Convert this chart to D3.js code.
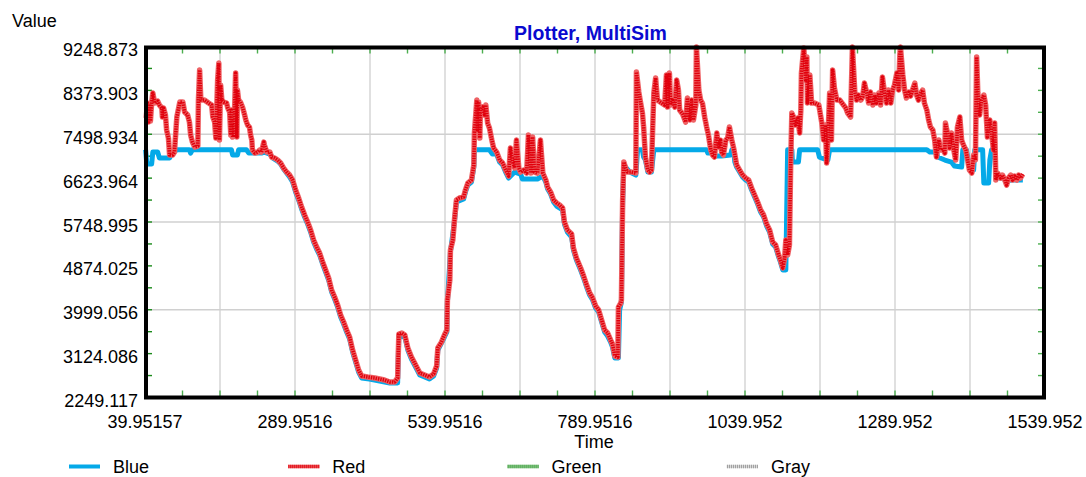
<!DOCTYPE html>
<html>
<head>
<meta charset="utf-8">
<script src="https://cdn.jsdelivr.net/npm/d3@7"></script>
<style>
  body { margin: 0; background: #fff; }
  svg { display: block; font-family: "Liberation Sans", Arial, sans-serif; }
</style>
</head>
<body>
<svg width="1086" height="477"></svg>
<script>
// axis ticks as printed on the plot
const xTickValues = [39.95157, 289.9516, 539.9516, 789.9516, 1039.952, 1289.952, 1539.952];
const xTickLabels = ['39.95157', '289.9516', '539.9516', '789.9516', '1039.952', '1289.952', '1539.952'];
const yTickValues = [2249.117, 3124.086, 3999.056, 4874.025, 5748.995, 6623.964, 7498.934, 8373.903, 9248.873];
const yTickLabels = ['2249.117', '3124.086', '3999.056', '4874.025', '5748.995', '6623.964', '7498.934', '8373.903', '9248.873'];
const seriesNames = ['Blue', 'Red', 'Green', 'Gray'];

// [time, value]
const blue = [
  [41,7190],[43,6905],[51,6905],[53,7144],[61,7144],[64,7025],[81,7025],[84,7104],[93,7190],[114,7190],
  [116,7124],[119,7190],[184,7190],[186,7085],[194,7085],[196,7190],[209,7190],[213,7124],[234,7124],
  [239,7144],[248,7104],[253,7025],[261,6965],[266,6905],[271,6805],[276,6725],[281,6646],[286,6546],
  [291,6346],[296,6187],[301,6007],[306,5848],[311,5708],[316,5549],[321,5350],[326,5210],[331,5090],
  [336,4911],[341,4751],[346,4592],[351,4353],[356,4213],[361,4053],[366,3854],[371,3714],[376,3555],
  [381,3415],[386,3156],[391,2957],[396,2757],[401,2638],[414,2618],[431,2578],[448,2538],[461,2538],
  [463,3475],[473,3455],[478,3196],[484,3016],[491,2857],[498,2698],[514,2618],[521,2678],[526,2837],
  [528,3196],[539,3455],[543,3555],[544,4153],[549,5150],[556,5788],[559,6147],[571,6207],[574,6346],
  [578,6486],[584,6546],[588,6845],[589,7190],[614,7190],[619,7104],[626,7104],[631,6945],[636,6885],
  [641,6745],[646,6626],[656,6745],[666,6705],[669,6606],[694,6606],[703,6666],[708,6546],[711,6406],
  [716,6307],[721,6147],[726,6067],[736,5988],[739,5708],[744,5549],[751,5449],[754,5190],[759,4991],
  [766,4791],[771,4632],[776,4452],[781,4293],[786,4193],[791,4034],[796,3954],[801,3754],[806,3555],
  [811,3475],[816,3355],[819,3256],[823,3036],[829,3036],[831,3994],[834,4153],[836,6127],[838,6885],
  [848,6745],[858,6685],[861,7190],[869,7190],[871,7044],[874,6985],[878,6745],[884,6745],[888,7190],
  [976,7190],[978,7124],[986,7124],[989,7064],[1001,7064],[1016,7085],[1018,7190],[1021,7190],[1023,6945],
  [1026,6845],[1031,6745],[1036,6646],[1041,6586],[1046,6546],[1051,6386],[1056,6247],[1061,6107],
  [1066,5948],[1071,5848],[1076,5669],[1081,5549],[1086,5310],[1091,5250],[1096,5051],[1099,4951],
  [1103,4791],[1108,4791],[1111,7190],[1118,7190],[1119,6945],[1129,6945],[1131,7190],[1161,7190],
  [1164,7044],[1178,6985],[1181,7190],[1343,7190],[1348,7144],[1359,7144],[1361,7044],[1373,6985],
  [1384,6945],[1389,6865],[1401,6845],[1403,7190],[1409,7190],[1411,7025],[1418,6785],[1421,6785],
  [1423,7190],[1436,7190],[1438,6526],[1446,6526],[1448,6985],[1451,7190],[1456,7190],[1458,6685],
  [1464,6626],[1471,6626],[1476,6526],[1481,6586],[1503,6586]
];

const red = [
  [42,7822],[44,8121],[46,7742],[48,8101],[49,7762],[51,8121],[53,8321],[56,8121],[61,8161],[64,8081],
  [68,8021],[69,7842],[71,8021],[74,7882],[76,7583],[79,7423],[81,7084],[86,7084],[89,7144],[91,7483],
  [93,7842],[96,8021],[98,8141],[103,8141],[106,7942],[111,7882],[114,7742],[116,7483],[119,7343],
  [123,7244],[128,7264],[129,8181],[131,8779],[133,8181],[139,8181],[146,8121],[151,8081],[153,7842],
  [156,7742],[158,7423],[161,8580],[163,8919],[164,7383],[166,8480],[168,8181],[171,8141],[176,8121],
  [178,8021],[181,7942],[183,7483],[184,7982],[186,7443],[188,7483],[191,8719],[193,7443],[194,8380],
  [196,8181],[199,8141],[203,8021],[206,7882],[208,7782],[211,7682],[214,7643],[216,7483],[218,7383],
  [219,7184],[223,7124],[228,7144],[231,7184],[234,7144],[238,7343],[239,7284],[243,7144],[248,7144],
  [251,7044],[256,7024],[261,6985],[266,6925],[271,6825],[276,6745],[281,6685],[286,6586],[291,6386],
  [296,6227],[301,6047],[306,5888],[311,5748],[316,5589],[321,5389],[326,5250],[331,5130],[336,4951],
  [341,4791],[346,4632],[351,4392],[356,4253],[361,4093],[366,3894],[371,3754],[376,3595],[381,3455],
  [386,3196],[391,2997],[396,2797],[401,2678],[411,2658],[423,2638],[431,2618],[439,2598],[448,2558],
  [456,2558],[461,2638],[463,3515],[468,3535],[473,3495],[478,3236],[484,3056],[491,2897],[498,2737],
  [506,2698],[514,2658],[521,2718],[526,2877],[528,3236],[534,3355],[539,3495],[543,3595],[544,4193],
  [548,4592],[549,5190],[553,5389],[556,5828],[559,6187],[564,6227],[571,6247],[574,6386],[578,6526],
  [584,6586],[588,6885],[589,7523],[593,8181],[594,7583],[596,8141],[598,7423],[599,7982],[603,8042],
  [606,7882],[608,8081],[611,7722],[614,7623],[618,7383],[621,7224],[626,7144],[631,6985],[636,6925],
  [641,6785],[646,6666],[649,7224],[653,6945],[656,6825],[659,7383],[663,6825],[666,6745],[671,6785],
  [676,6725],[679,7483],[683,6725],[686,7443],[689,6745],[694,6725],[699,7383],[703,6725],[708,6586],
  [711,6446],[716,6346],[721,6187],[726,6127],[731,6087],[736,6027],[739,5748],[744,5589],[751,5509],
  [754,5230],[759,5030],[766,4831],[771,4672],[776,4492],[781,4333],[786,4233],[791,4073],[796,3994],
  [801,3794],[806,3595],[811,3535],[816,3395],[819,3316],[823,3076],[828,3056],[829,4053],[833,4133],
  [834,4193],[836,6187],[838,6945],[841,6825],[844,6745],[851,6745],[858,6725],[859,8739],[863,8340],
  [866,8121],[869,7922],[871,7643],[874,7044],[878,6785],[881,6745],[884,6785],[886,7583],[888,8321],
  [891,8620],[894,8181],[901,8121],[906,8081],[909,8680],[911,8041],[914,8720],[916,8081],[919,8181],
  [923,8041],[926,8580],[929,8380],[931,7982],[936,7902],[941,7742],[944,8221],[948,7782],[951,8181],
  [954,7782],[958,8081],[959,9238],[963,8380],[966,8181],[969,8121],[973,7822],[976,7643],[979,7483],
  [983,7184],[986,7084],[989,7044],[993,7523],[996,7244],[999,7383],[1001,7144],[1004,7084],[1008,7383],
  [1011,7423],[1014,7643],[1018,7383],[1021,7224],[1026,6885],[1031,6785],[1036,6685],[1041,6626],
  [1046,6586],[1051,6426],[1056,6287],[1061,6147],[1066,5988],[1071,5888],[1076,5708],[1081,5589],
  [1086,5350],[1091,5290],[1096,5090],[1099,4991],[1103,4831],[1106,5030],[1108,5389],[1111,5090],
  [1114,5290],[1116,6845],[1118,7922],[1121,7842],[1124,7682],[1128,7822],[1131,7523],[1133,7982],
  [1134,8719],[1136,8979],[1138,9218],[1141,8580],[1143,9038],[1144,8121],[1148,8680],[1151,8121],
  [1156,8121],[1163,8081],[1168,7722],[1171,7383],[1174,7682],[1176,6925],[1178,7383],[1181,8321],
  [1184,7383],[1186,8779],[1189,8420],[1193,8181],[1198,8181],[1203,8101],[1208,8021],[1211,7922],
  [1216,7842],[1219,9238],[1223,8340],[1226,8181],[1229,8281],[1233,8181],[1236,8241],[1239,8520],
  [1243,8321],[1246,8121],[1249,8340],[1253,8081],[1256,8281],[1259,8121],[1263,8321],[1266,8081],
  [1269,8640],[1273,8281],[1276,8121],[1279,8380],[1283,8121],[1286,8380],[1289,8480],[1293,8719],
  [1296,8380],[1298,9078],[1299,9238],[1303,8680],[1306,8380],[1309,8221],[1313,8340],[1316,8261],
  [1319,8380],[1323,8520],[1326,8281],[1329,8181],[1333,8321],[1336,8380],[1339,8121],[1343,7982],
  [1346,7782],[1349,7643],[1353,7583],[1356,7383],[1359,7044],[1363,7383],[1366,7184],[1369,7224],
  [1373,7124],[1374,7722],[1378,7483],[1381,7224],[1384,7523],[1388,7184],[1391,6985],[1393,7383],
  [1394,7643],[1398,7842],[1401,7383],[1404,7284],[1408,7184],[1411,6985],[1414,6785],[1418,6725],
  [1421,7084],[1424,6985],[1426,9038],[1428,8321],[1431,7882],[1434,8181],[1438,8281],[1441,8081],
  [1444,7443],[1448,7782],[1451,7523],[1454,7184],[1456,7722],[1458,6586],[1461,6725],[1466,6626],
  [1469,6685],[1473,6586],[1476,6486],[1479,6626],[1483,6685],[1486,6586],[1489,6666],[1493,6586],
  [1496,6685],[1499,6626],[1503,6705]
];

const green = [];
const gray = [];

const svg = d3.select('svg');

const plotLeft = 145, plotRight = 1045, plotTop = 46.5, plotBottom = 397.5;

const x = d3.scaleLinear()
  .domain([xTickValues[0], xTickValues[xTickValues.length - 1]])
  .range([plotLeft, plotRight]);

const y = d3.scaleLinear()
  .domain([yTickValues[0], yTickValues[yTickValues.length - 1]])
  .range([plotBottom, plotTop]);

const xStep = (xTickValues[1] - xTickValues[0]);
const yStep = (yTickValues[1] - yTickValues[0]);

// grid: vertical every half label step, horizontal every two label steps
const xGrid = d3.range(1, 12).map(i => xTickValues[0] + i * xStep / 2);
const yGrid = [yTickValues[2], yTickValues[4], yTickValues[6]];

svg.append('g')
  .selectAll('line')
  .data(xGrid)
  .join('line')
  .attr('x1', d => x(d)).attr('x2', d => x(d))
  .attr('y1', plotTop).attr('y2', plotBottom)
  .attr('stroke', '#d9d9d9')
  .attr('stroke-width', 1.6);

svg.append('g')
  .selectAll('line')
  .data(yGrid)
  .join('line')
  .attr('x1', plotLeft).attr('x2', plotRight)
  .attr('y1', d => y(d)).attr('y2', d => y(d))
  .attr('stroke', '#d0d0d0')
  .attr('stroke-width', 1.4);

// small green ticks inside the frame
const xMinor = d3.range(1, 24).map(i => xTickValues[0] + i * xStep / 4);
const yMinor = d3.range(1, 16).map(i => yTickValues[0] + i * yStep / 2);
const tickLen = 7;
const ticks = svg.append('g').attr('stroke', '#4caf50').attr('stroke-width', 1.4);

ticks.selectAll('.tt').data(xMinor).join('line').attr('class', 'tt')
  .attr('x1', d => x(d)).attr('x2', d => x(d))
  .attr('y1', plotTop).attr('y2', plotTop + tickLen);
ticks.selectAll('.tb').data(xMinor).join('line').attr('class', 'tb')
  .attr('x1', d => x(d)).attr('x2', d => x(d))
  .attr('y1', plotBottom).attr('y2', plotBottom - tickLen);
ticks.selectAll('.tl').data(yMinor).join('line').attr('class', 'tl')
  .attr('x1', plotLeft).attr('x2', plotLeft + tickLen)
  .attr('y1', d => y(d)).attr('y2', d => y(d))
  .attr('stroke', '#1a8a1a');
ticks.selectAll('.tr').data(yMinor).join('line').attr('class', 'tr')
  .attr('x1', plotRight).attr('x2', plotRight - tickLen)
  .attr('y1', d => y(d)).attr('y2', d => y(d));

// series
const line = d3.line().x(d => x(d[0])).y(d => y(d[1]));
const plot = svg.append('g');

plot.append('path')
  .datum(blue)
  .attr('d', line)
  .attr('fill', 'none')
  .attr('stroke', '#04a9e8')
  .attr('stroke-width', 5)
  .attr('stroke-linejoin', 'round');

plot.append('path')
  .datum(red)
  .attr('d', line)
  .attr('fill', 'none')
  .attr('stroke', '#ee6265')
  .attr('stroke-width', 5.5)
  .attr('stroke-linejoin', 'round');

plot.append('path')
  .datum(red)
  .attr('d', line)
  .attr('fill', 'none')
  .attr('stroke', '#e0000c')
  .attr('stroke-width', 3.6)
  .attr('stroke-dasharray', '1.4 1')
  .attr('stroke-linejoin', 'round');

[green, gray].forEach((s, i) => {
  plot.append('path')
    .datum(s)
    .attr('d', line)
    .attr('fill', 'none')
    .attr('stroke', i === 0 ? '#3aa63a' : '#999')
    .attr('stroke-width', 3)
    .attr('stroke-dasharray', '1 1');
});

// frame
svg.append('rect')
  .attr('x', plotLeft + 1).attr('y', plotTop + 1)
  .attr('width', plotRight - plotLeft - 2).attr('height', plotBottom - plotTop - 1)
  .attr('fill', 'none')
  .attr('stroke', '#000')
  .attr('stroke-width', 4);

// tick labels
svg.append('g')
  .selectAll('text')
  .data(yTickValues)
  .join('text')
  .attr('x', 138)
  .attr('y', d => y(d) + 9.5)
  .attr('text-anchor', 'end')
  .attr('font-size', 18)
  .text((d, i) => yTickLabels[i]);

svg.append('g')
  .selectAll('text')
  .data(xTickValues)
  .join('text')
  .attr('x', d => x(d))
  .attr('y', 427.5)
  .attr('text-anchor', 'middle')
  .attr('font-size', 18)
  .text((d, i) => xTickLabels[i]);

svg.append('text')
  .attr('x', 12).attr('y', 27)
  .attr('font-size', 18)
  .text('Value');

svg.append('text')
  .attr('x', 594).attr('y', 448)
  .attr('text-anchor', 'middle')
  .attr('font-size', 18)
  .text('Time');

svg.append('text')
  .attr('x', 590.5).attr('y', 40)
  .attr('text-anchor', 'middle')
  .attr('font-size', 19.5)
  .attr('font-weight', 'bold')
  .attr('fill', '#0a0acf')
  .text('Plotter, MultiSim');

// legend
const legend = svg.append('g')
  .selectAll('g')
  .data(seriesNames)
  .join('g')
  .attr('transform', (d, i) => `translate(${69 + i * 219.3}, 466.5)`);

legend.each(function (d, i) {
  const g = d3.select(this);
  if (i === 0) {
    g.append('line').attr('x1', 0).attr('x2', 31)
      .attr('stroke', '#04a9e8').attr('stroke-width', 4);
  } else if (i === 1) {
    g.append('line').attr('x1', 0).attr('x2', 31)
      .attr('stroke', '#ee6265').attr('stroke-width', 3.5);
    g.append('line').attr('x1', 0).attr('x2', 31)
      .attr('stroke', '#e0000c').attr('stroke-width', 3.5)
      .attr('stroke-dasharray', '1 1');
  } else {
    const c = i === 2 ? ['#9fd49f', '#3a9a3a'] : ['#e0e0e0', '#9a9a9a'];
    g.append('line').attr('x1', 0).attr('x2', 31)
      .attr('stroke', c[0]).attr('stroke-width', 3.5);
    g.append('line').attr('x1', 0).attr('x2', 31)
      .attr('stroke', c[1]).attr('stroke-width', 3.5)
      .attr('stroke-dasharray', '1 1');
  }
  g.append('text')
    .attr('x', 44).attr('y', 6)
    .attr('font-size', 18)
    .text(d);
});
</script>
</body>
</html>
